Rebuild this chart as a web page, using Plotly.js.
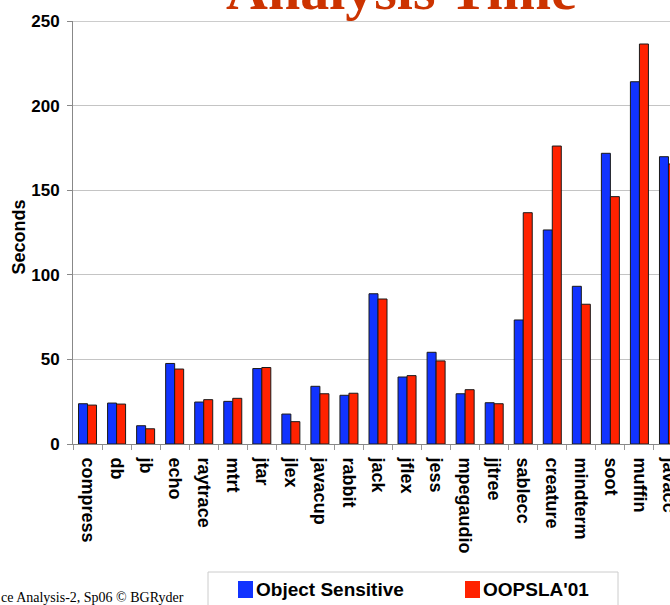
<!DOCTYPE html>
<html>
<head>
<meta charset="utf-8">
<script src="https://cdn.plot.ly/plotly-3.0.1.min.js"></script>
<style>
  html, body { margin: 0; padding: 0; overflow: hidden; background: #fff; }
  #chart { width: 700px; height: 605px; }
</style>
</head>
<body>
<div id="chart"></div>
<script>
const categories = ["compress", "db", "jb", "echo", "raytrace", "mtrt", "jtar", "jlex", "javacup", "rabbit",
  "jack", "jflex", "jess", "mpegaudio", "jjtree", "sablecc", "creature", "mindterm", "soot", "muffin", "javacc"];
const objectSensitive = [23.8, 24.2, 10.8, 47.6, 24.8, 25.2, 44.6, 17.7, 34.1, 28.8,
  88.8, 39.6, 54.2, 29.7, 24.4, 73.3, 126.5, 93.2, 171.8, 214.1, 169.8];
const oopsla01 = [23.0, 23.6, 9.0, 44.3, 26.2, 27.0, 45.2, 13.2, 29.7, 30.0,
  85.7, 40.4, 49.1, 32.1, 23.8, 136.7, 176.1, 82.6, 146.2, 236.4, 165.5];
const seriesNames = ["Object Sensitive", "OOPSLA'01"];
const seriesColors = ["#1133ff", "#ff2200"];
const yTicks = [0, 50, 100, 150, 200, 250];

const sans = "Liberation Sans, Arial, sans-serif";
const serif = "Liberation Serif, Times New Roman, serif";

// page geometry (pixels) -> paper fractions, for decorations only
const W = 700, H = 605, ML = 73, MR = 17, MT = 21, MB = 161;
const PW = W - ML - MR, PH = H - MT - MB;
const xp = px => (px - ML) / PW;
const yp = py => (H - MB - py) / PH;

const traces = seriesNames.map((name, i) => ({
  type: "bar", name: name, x: categories, y: i === 0 ? objectSensitive : oopsla01,
  marker: { color: seriesColors[i], line: { color: "#1a1a1a", width: 1 } }
}));

const legendShapes = [
  { type: "rect", xref: "paper", yref: "paper", x0: xp(208), x1: xp(618), y0: yp(572), y1: yp(620),
    line: { color: "#cccccc", width: 1 }, fillcolor: "rgba(0,0,0,0)" },
  { type: "rect", xref: "paper", yref: "paper", x0: xp(238), x1: xp(253), y0: yp(581), y1: yp(598),
    line: { width: 0 }, fillcolor: seriesColors[0] },
  { type: "rect", xref: "paper", yref: "paper", x0: xp(465), x1: xp(480), y0: yp(581), y1: yp(598),
    line: { width: 0 }, fillcolor: seriesColors[1] },
  { type: "line", xref: "paper", yref: "y", x0: 0, x1: 1, y0: yTicks[yTicks.length - 1], y1: yTicks[yTicks.length - 1],
    line: { color: "#999999", width: 1 } }
];

const layout = {
  width: W, height: H,
  margin: { l: ML, r: MR, t: MT, b: MB },
  paper_bgcolor: "#ffffff", plot_bgcolor: "#ffffff",
  barmode: "group", bargap: 0.38, bargroupgap: 0,
  showlegend: false,
  xaxis: {
    type: "category", tickson: "boundaries", ticks: "outside", ticklen: 5, tickcolor: "#999",
    tickangle: 90, showline: true, linecolor: "#888", linewidth: 1, showgrid: false,
    tickfont: { family: sans, size: 18, weight: 700, color: "#000" },
    ticklabelstandoff: 9, automargin: false
  },
  yaxis: {
    range: [0, 250], tickvals: yTicks, ticks: "outside", ticklen: 5, tickcolor: "#888",
    showline: true, linecolor: "#888", linewidth: 1,
    showgrid: true, gridcolor: "#c4c4c4", gridwidth: 1, zeroline: false,
    tickfont: { family: sans, size: 17, weight: 700, color: "#000" },
    ticklabelstandoff: 4, automargin: false
  },
  shapes: legendShapes,
  annotations: [
    { text: "Analysis Time", xref: "paper", yref: "paper", x: 0.538, y: 0.979, yshift: 6,
      xanchor: "center", yanchor: "bottom", showarrow: false,
      font: { family: serif, size: 58, weight: 700, color: "#cc3300" } },
    { text: "Seconds", xref: "paper", yref: "paper", x: xp(18), y: yp(237.5), textangle: -90,
      xanchor: "center", yanchor: "middle", showarrow: false,
      font: { family: sans, size: 18, weight: 700, color: "#000" } },
    { text: "ce Analysis-2, Sp06 © BGRyder", xref: "paper", yref: "paper", x: xp(-1), y: yp(597),
      xanchor: "left", yanchor: "middle", showarrow: false,
      font: { family: serif, size: 14, color: "#000" } },
    { text: seriesNames[0], xref: "paper", yref: "paper", x: xp(254), y: yp(589.5),
      xanchor: "left", yanchor: "middle", showarrow: false,
      font: { family: sans, size: 19, weight: 700, color: "#000" } },
    { text: seriesNames[1], xref: "paper", yref: "paper", x: xp(481), y: yp(589.5),
      xanchor: "left", yanchor: "middle", showarrow: false,
      font: { family: sans, size: 19, weight: 700, color: "#000" } }
  ]
};

Plotly.newPlot("chart", traces, layout, { displayModeBar: false, staticPlot: true });
</script>
</body>
</html>
